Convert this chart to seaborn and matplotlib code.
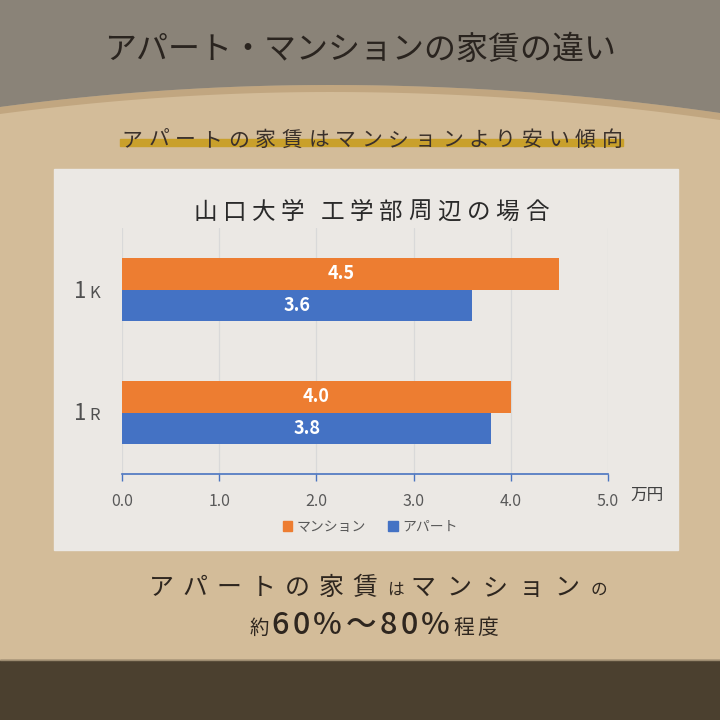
import numpy as np
import pandas as pd
import matplotlib
matplotlib.use("Agg")
import matplotlib.pyplot as plt
from matplotlib.patches import Rectangle, Patch
import seaborn as sns

# ---------------- data ----------------
rooms = ["1K", "1R"]
types = ["マンション", "アパート"]
mansion_rent = [4.5, 4.0]
apart_rent = [3.6, 3.8]
x_ticks = [0.0, 1.0, 2.0, 3.0, 4.0, 5.0]
x_unit = "万円"

title = "アパート・マンションの家賃の違い"
subtitle = "アパートの家賃はマンションより安い傾向"
chart_title = "山口大学 工学部周辺の場合"

ORANGE = "#ED7D31"
BLUE = "#4472C4"

df = pd.DataFrame({
    "room": rooms * 2,
    "type": [types[0]] * len(rooms) + [types[1]] * len(rooms),
    "rent": mansion_rent + apart_rent,
})

sns.set_theme(style="white")
plt.rcParams["font.family"] = ["Noto Sans CJK JP", "DejaVu Sans"]

fig = plt.figure(figsize=(7.2, 7.2), dpi=100)

# ---------------- background (pixel coords) ----------------
bg = fig.add_axes([0, 0, 1, 1], zorder=0)
bg.set_xlim(0, 720)
bg.set_ylim(720, 0)
bg.axis("off")

bg.add_patch(Rectangle((0, 0), 720, 720, color="#D3BC99", zorder=0))
xs = np.linspace(0, 720, 300)
curve = np.where(xs < 330, 85 + (xs - 330) ** 2 * 22 / 330 ** 2,
                 85 + (xs - 330) ** 2 * 28 / 390 ** 2)
bg.fill_between(xs, curve, curve + 7, color="#C1A680", zorder=1, lw=0)
bg.fill_between(xs, 0, curve, color="#8A8378", zorder=2, lw=0)
bg.add_patch(Rectangle((0, 660), 720, 60, color="#4B402F", zorder=1))
bg.plot([0, 720], [660, 660], color="#9C8B70", lw=1, zorder=2)
# chart panel
bg.add_patch(Rectangle((54, 169), 624, 381, color="#EBE8E4", zorder=1))
# subtitle highlight
bg.add_patch(Rectangle((120, 139), 503, 7, color="#C9A02A", zorder=2))

renderer = fig.canvas.get_renderer()


def run(segs, x, y, color, align="center", zorder=5):
    """Draw a sequence of characters with per-segment size/tracking on baseline y."""
    items = []
    for text, size, track, weight in segs:
        for ch in text:
            t = bg.text(0, y, ch, fontsize=size, fontweight=weight, color=color,
                        ha="left", va="baseline", zorder=zorder)
            w = t.get_window_extent(renderer).width
            items.append((t, w, track))
    total = sum(w + tr for _, w, tr in items) - items[-1][2]
    if align == "center":
        cx = x - total / 2
    elif align == "right":
        cx = x - total
    else:
        cx = x
    for t, w, tr in items:
        t.set_x(cx)
        cx += w + tr


# main title
bg.text(360, 50, title, fontsize=23, color="#2A241F", ha="center", va="center", zorder=5)
# subtitle
run([(subtitle, 15, 5.8, "normal")], 372, 146, "#3A302A")
# chart title
run([(chart_title, 17, 5.5, "normal")], 371, 219, "#2A2A2A")

# bottom message
run([("アパートの家賃", 18, 9, "normal"), ("は", 12, 7, "normal"),
     ("マンション", 18, 11, "normal"), ("の", 12, 0, "normal")],
    378, 595, "#2E261F")
run([("約", 14, 2, "normal"), ("60%〜80%", 22, 3.5, "medium"), ("程度", 15, 3, "normal")],
    374, 634, "#2E261F")

# ---------------- chart ----------------
ax = fig.add_axes([122 / 720, (720 - 474) / 720, 486 / 720, 246 / 720], zorder=3)
ax.patch.set_alpha(0)
sns.barplot(data=df, y="room", x="rent", hue="type", hue_order=types,
            palette=[ORANGE, BLUE], orient="h", width=0.52, saturation=1,
            ax=ax, legend=False, zorder=3, linewidth=0, edgecolor="none")

for cont in ax.containers:
    ax.bar_label(cont, fmt="%.1f", label_type="center", color="white",
                 fontsize=13, fontweight="bold")

ax.set_xlim(0, 5.0)
ax.set_ylim(1.5, -0.5)
ax.set_xticks(x_ticks)
ax.set_xticklabels([f"{v:.1f}" for v in x_ticks], fontsize=11.5, color="#595959")
ax.set_yticks([])
ax.set_xlabel("")
ax.set_ylabel("")
for v in x_ticks:
    ax.axvline(v, color="#D9D9D9", lw=0.9, zorder=0)
for s in ["top", "right", "left"]:
    ax.spines[s].set_visible(False)
ax.spines["bottom"].set_color("#4A74C0")
ax.spines["bottom"].set_linewidth(1.2)
ax.tick_params(axis="x", direction="out", length=5, width=1, color="#4A74C0", pad=9,
               bottom=True)

# category labels
for lab, yb in zip(rooms, [298, 420]):
    run([(lab[0], 16, 3, "normal"), (lab[1:], 12, 0, "normal")], 100, yb, "#505050",
        align="right")

bg.text(630, 495, x_unit, fontsize=12, color="#404040", ha="left", va="center", zorder=5)

# legend
handles = [Patch(color=ORANGE, label=types[0]), Patch(color=BLUE, label=types[1])]
leg = fig.legend(handles=handles, loc="center", bbox_to_anchor=(370 / 720, 1 - 527 / 720),
                 ncol=2, frameon=False, fontsize=10, handlelength=0.7, handleheight=0.7,
                 handletextpad=0.3, columnspacing=1.6)
for t in leg.get_texts():
    t.set_color("#595959")
leg.set_zorder(6)

fig.savefig("out.png", dpi=100)
